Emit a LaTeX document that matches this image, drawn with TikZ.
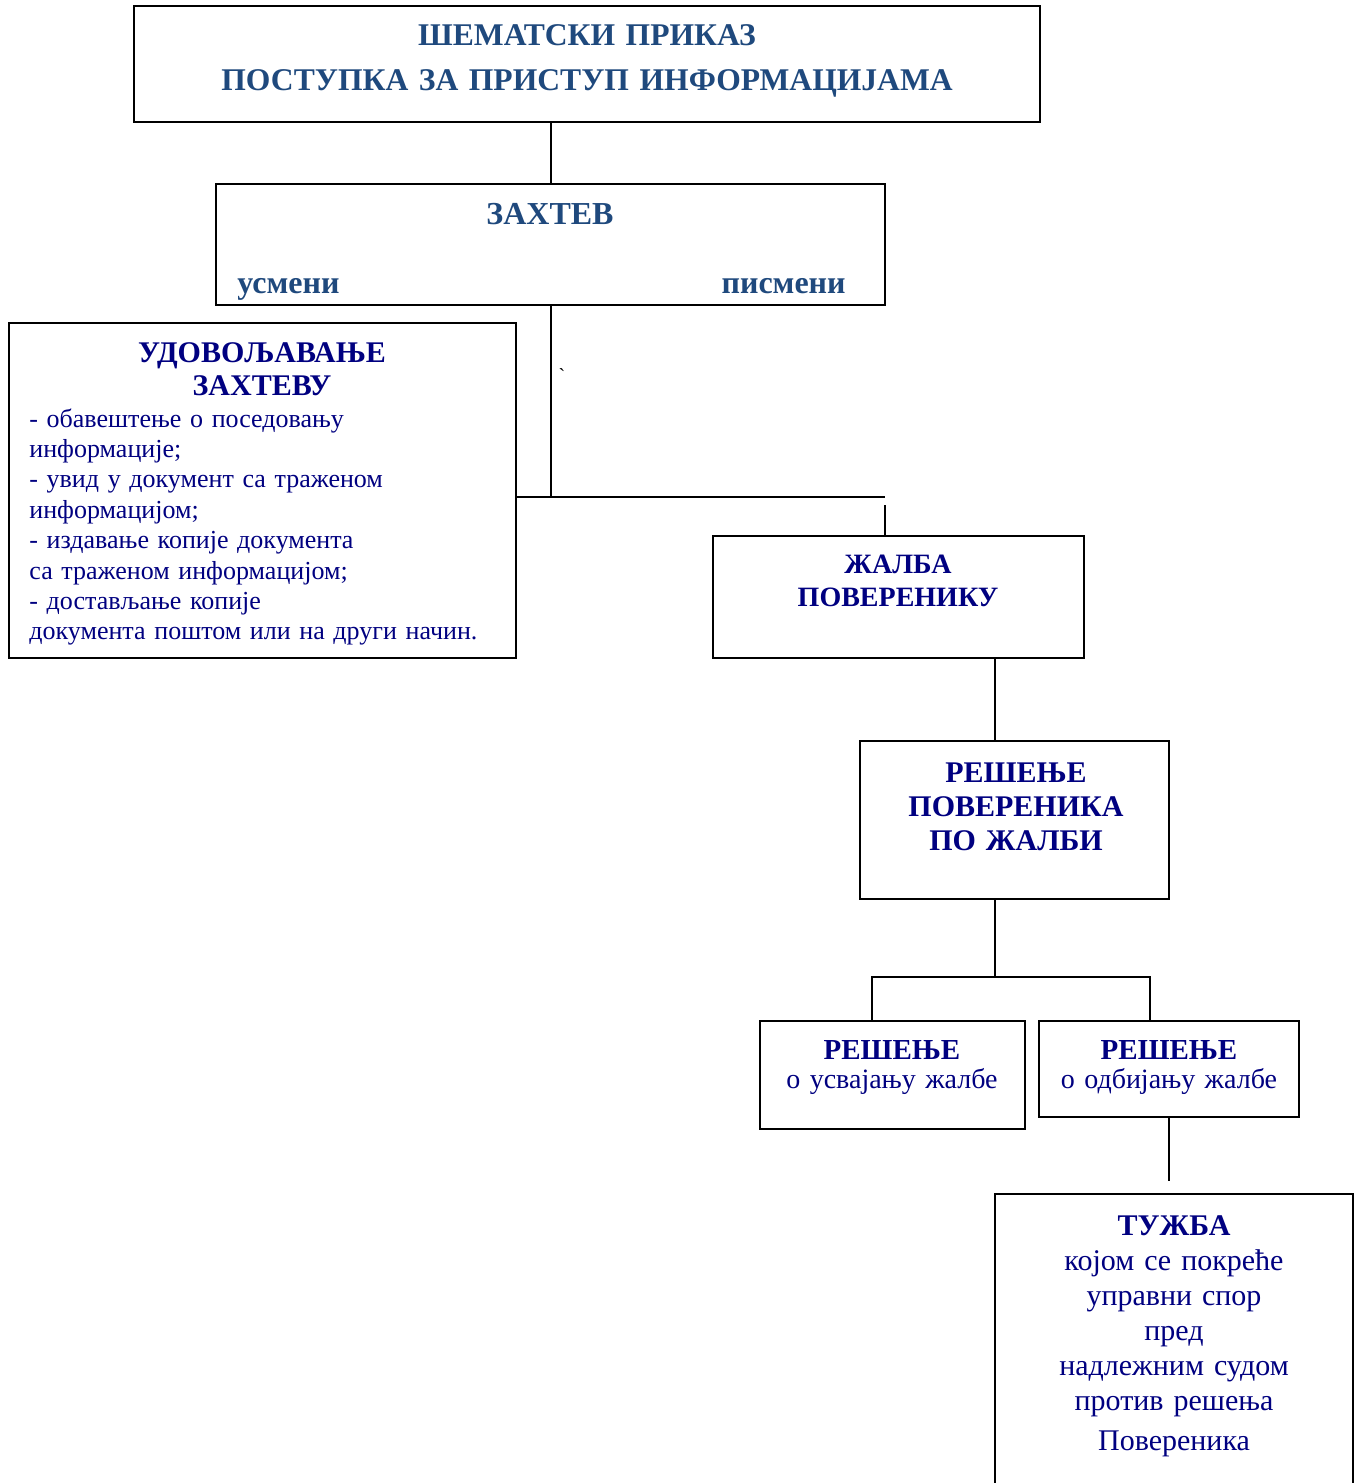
\documentclass[tikz,border=0pt]{standalone}
\usepackage{fontspec}
\setmainfont{Liberation Serif}
\usepackage{xcolor}
\usetikzlibrary{positioning,calc}
\definecolor{plavaNaslov}{HTML}{1F497D}
\definecolor{plavaTekst}{HTML}{000080}

\begin{document}
\begin{tikzpicture}[x=0.5pt,y=-0.5pt]
\tikzstyle{kutija}=[draw,line width=1pt,rectangle,inner sep=0pt,outer sep=0pt,anchor=north west]
\tikzstyle{linija}=[line width=1pt]
\tikzstyle{naslovrec}=[text=plavaNaslov,font=\bfseries\fontsize{16}{22}\selectfont,inner sep=0pt]
\tikzstyle{naslov}=[naslovrec,text width=460pt,align=center,anchor=base]
\tikzstyle{glava}=[text=plavaTekst,font=\bfseries\fontsize{15}{16.5}\selectfont,inner sep=0pt,text width=200pt,align=center,anchor=base]
\tikzstyle{opis}=[text=plavaTekst,font=\fontsize{13}{15.2}\selectfont,inner sep=0pt,text width=245pt,align=left,anchor=base west]
\def\px{0.5pt}
\useasboundingbox (0,0) rectangle (1359,1483);
\clip (0,0) rectangle (1359,1483);
\node[kutija,minimum width=906*\px,minimum height=116*\px] (sema) at (134,6) {};
\node[kutija,minimum width=669*\px,minimum height=121*\px] (zahtev) at (216,184) {};
\node[kutija,minimum width=507*\px,minimum height=335*\px] (udov) at (9,323) {};
\node[kutija,minimum width=371*\px,minimum height=122*\px] (zalba) at (713,536) {};
\node[kutija,minimum width=309*\px,minimum height=158*\px] (resenje) at (860,741) {};
\node[kutija,minimum width=265*\px,minimum height=108*\px] (usvajanje) at (760,1021) {};
\node[kutija,minimum width=260*\px,minimum height=96*\px] (odbijanje) at (1039,1021) {};
\node[kutija,minimum width=358*\px,minimum height=330*\px] (tuzba) at (995,1194) {};
\node[naslov,font=\bfseries\fontsize{15.8}{22}\selectfont] (semaT) at (587,46) {ШЕМАТСКИ ПРИКАЗ\\ПОСТУПКА ЗА ПРИСТУП ИНФОРМАЦИЈАМА};
\node[naslov] (zahtevT) at (550,224) {ЗАХТЕВ};
\node[naslovrec,anchor=base west] (usmeni) at (237,293) {усмени};
\node[naslovrec,anchor=base east] (pismeni) at (846,293) {писмени};
\node[glava] (udovT) at (262,362) {УДОВОЉАВАЊЕ\\ЗАХТЕВУ};
\node[opis] (udovO) at (29,427) {- обавештење о поседовању\\информације;\\- увид у документ са траженом\\информацијом;\\- издавање копије документа\\са траженом информацијом;\\- достављање копије\\документа поштом или на други начин.};
\node[glava,font=\bfseries\fontsize{14}{16.5}\selectfont] (zalbaT) at (898,573) {ЖАЛБА\\ПОВЕРЕНИКУ};
\node[glava,font=\bfseries\fontsize{15}{17}\selectfont] (resenjeT) at (1016,782) {РЕШЕЊЕ\\ПОВЕРЕНИКА\\ПО ЖАЛБИ};
\node[opis,font=\fontsize{14}{14.5}\selectfont,text width=130pt,align=center,anchor=base] (usvajanjeT) at (892,1059) {\textbf{\fontsize{14.5}{14.5}\selectfont РЕШЕЊЕ}\\о усвајању жалбе};
\node[opis,font=\fontsize{14}{14.5}\selectfont,text width=130pt,align=center,anchor=base] (odbijanjeT) at (1169,1059) {\textbf{\fontsize{14.5}{14.5}\selectfont РЕШЕЊЕ}\\о одбијању жалбе};
\node[opis,font=\fontsize{15}{17.5}\selectfont,text width=175pt,align=center,anchor=base] (tuzbaT) at (1174,1235) {\textbf{ТУЖБА}\\којом се покреће\\управни спор\\пред\\надлежним судом\\против решења\\[2.5pt]Повереника};
\node[inner sep=0pt,font=\fontsize{10}{12}\selectfont] (akcent) at (562,376) {\textasciigrave};
\coordinate (razvod) at (885,497);
\coordinate (zalbaUlaz) at (885,505);
\coordinate (osa) at (995,0);
\coordinate (grana) at (995,977);
\coordinate (granaL) at (872,977);
\coordinate (granaD) at (1150,977);
\coordinate (tuzbaUlaz) at (1169,1181);
\draw[linija] (zahtev.north |- sema.south) -- (zahtev.north);
\draw[linija] (zahtev.south) -- (zahtev.south |- razvod);
\draw[linija] (udov.east |- razvod) -- (razvod);
\draw[linija] (zalbaUlaz) -- (zalbaUlaz |- zalba.north);
\draw[linija] (zalba.south -| osa) -- (resenje.north -| osa);
\draw[linija] (resenje.south -| osa) -- (grana);
\draw[linija] (usvajanje.north -| granaL) -- (granaL) -- (granaD) -- (odbijanje.north -| granaD);
\draw[linija] (odbijanje.south) -- (tuzbaUlaz);
\end{tikzpicture}
\end{document}
